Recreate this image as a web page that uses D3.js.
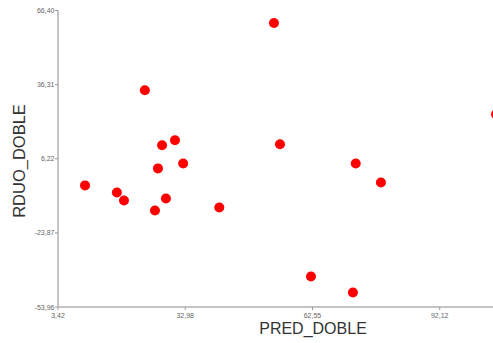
<!DOCTYPE html>
<html lang="en">
<head>
  <meta charset="UTF-8">
  <title>RDUO_DOBLE vs PRED_DOBLE</title>
  <script src="https://d3js.org/d3.v7.min.js"></script>
  <style>
    body { margin: 0; background: #fff; font-family: "Liberation Sans", Arial, sans-serif; }
    svg { display: block; }
    .tick-label { font-size: 7px; fill: #666; }
    .axis-title { font-size: 16px; fill: #333; }
  </style>
</head>
<body>
  <svg id="chart" width="493" height="343"></svg>
  <script>
    // values
    const predDoble = [53.6, 23.6, 105.2, 30.6, 27.6, 55.0, 26.65, 32.5, 72.6, 9.7, 17.1, 18.75, 28.5, 25.95, 40.9, 78.45, 62.2, 71.95];
    const rduoDoble = [61.3, 34.05, 24.3, 13.7, 11.7, 12.1, 2.3, 4.3, 4.3, -4.6, -7.45, -10.7, -9.9, -14.8, -13.6, -3.4, -41.6, -48.1];
    const xTicks = [3.42, 32.98, 62.55, 92.12];
    const yTicks = [-53.96, -23.87, 6.22, 36.31, 66.40];

    const svg = d3.select("#chart");
    const fmt = v => v.toFixed(2).replace(".", ",");

    const x = d3.scaleLinear().domain([3.42, 121.69]).range([58, 567]);
    const y = d3.scaleLinear().domain([-53.96, 66.40]).range([307, 10.5]);

    // axes lines
    svg.append("line")
      .attr("x1", x(3.42)).attr("x2", 493)
      .attr("y1", y(-53.96)).attr("y2", y(-53.96))
      .attr("stroke", "#c4c4c4").attr("stroke-width", 2);
    svg.append("line")
      .attr("x1", x(3.42)).attr("x2", x(3.42))
      .attr("y1", y(-53.96)).attr("y2", y(66.40))
      .attr("stroke", "#c4c4c4").attr("stroke-width", 2);

    // y ticks
    const yt = svg.append("g").selectAll("g").data(yTicks).enter().append("g");
    yt.append("line")
      .attr("x1", x(3.42) - 3).attr("x2", x(3.42))
      .attr("y1", d => y(d)).attr("y2", d => y(d))
      .attr("stroke", "#999").attr("stroke-width", 1);
    yt.append("text")
      .attr("class", "tick-label")
      .attr("x", x(3.42) - 3.5).attr("y", d => y(d) + 2.5)
      .attr("text-anchor", "end")
      .text(fmt);

    // x ticks
    const xt = svg.append("g").selectAll("g").data(xTicks).enter().append("g");
    xt.append("line")
      .attr("x1", d => x(d)).attr("x2", d => x(d))
      .attr("y1", y(-53.96)).attr("y2", y(-53.96) + 3)
      .attr("stroke", "#999").attr("stroke-width", 1);
    xt.append("text")
      .attr("class", "tick-label")
      .attr("x", d => x(d)).attr("y", y(-53.96) + 11)
      .attr("text-anchor", "middle")
      .text(fmt);

    // points
    svg.append("g").selectAll("circle")
      .data(predDoble)
      .enter().append("circle")
      .attr("cx", d => x(d))
      .attr("cy", (d, i) => y(rduoDoble[i]))
      .attr("r", 5)
      .attr("fill", "#ff0000");

    // titles
    svg.append("text")
      .attr("class", "axis-title")
      .attr("x", 313).attr("y", 334)
      .attr("text-anchor", "middle")
      .text("PRED_DOBLE");
    svg.append("text")
      .attr("class", "axis-title")
      .style("font-size", "16.5px")
      .attr("transform", "translate(24.5,161) rotate(-90)")
      .attr("text-anchor", "middle")
      .text("RDUO_DOBLE");
  </script>
</body>
</html>
